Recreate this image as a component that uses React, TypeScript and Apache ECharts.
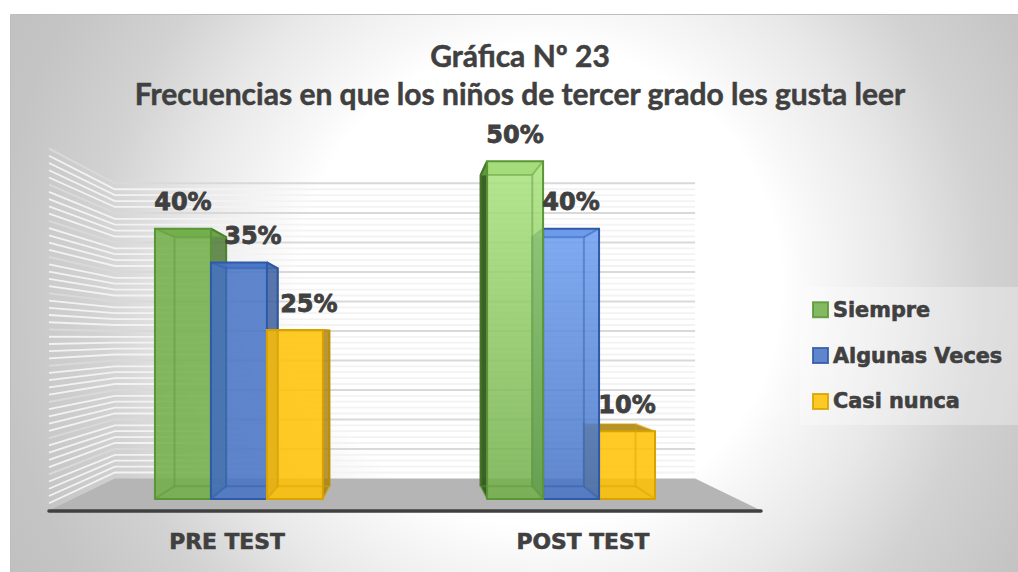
import React, { useEffect, useRef } from "react";
import * as echarts from "echarts";

const categories = ["PRE TEST", "POST TEST"];
const siempre = [40, 50];
const algunasVeces = [35, 40];
const casiNunca = [25, 10];
const seriesNames = ["Siempre", "Algunas Veces", "Casi nunca"];
const wallTicks = Array.from({ length: 51 }, (_, i) => i);

const FONT = "'DejaVu Sans', sans-serif";
const INK = "#404040";
const VANISH_X = 405;
const VANISH_Y = 337;
const WALL_S = 0.815;
const BAR_FRONT_S = 0.933;
const BAR_BACK_S = 0.86;
const BAR_W = 60;

const palette = [
  { base: "#70ad47", edge: "#5a9636", side: "#44732a", sideDark: "#335a1c", topLight: "#a9e27d" },
  { base: "#4472c4", edge: "#2e5aa8", side: "#2f5597", sideDark: "#254a8a", topLight: "#6b9df0" },
  { base: "#ffc000", edge: "#d8a200", side: "#a87f05", sideDark: "#a87f05", topLight: "#ffc000" },
];

const project = (x: number, y: number, s: number) => [
  VANISH_X + (x - VANISH_X) * s,
  VANISH_Y + (y - VANISH_Y) * s,
];

const poly = (points: number[][], style: any, z2: number) => ({
  type: "polygon",
  shape: { points },
  style,
  z2,
  silent: true,
});
const line = (points: number[][], style: any, z2: number) => ({
  type: "polyline",
  shape: { points },
  style: { fill: "none", ...style },
  z2,
  silent: true,
});

const wallsRender = (params: any, api: any) => {
  const v = api.value(0);
  const sys = params.coordSys;
  const y = api.coord([0, v])[1];
  const left = sys.x;
  const right = sys.x + sys.width;
  const major = v % 5 === 0;
  const children: any[] = [];
  if (params.dataIndex === 0) {
    const by = api.coord([0, 0])[1];
    children.push(
      poly(
        [[left, by], project(left, by, WALL_S), project(right, by, WALL_S), [right, by]],
        { fill: "#b5b5b5" },
        0,
      ),
    );
  } else {
    children.push(
      line([[left, y], project(left, y, WALL_S), project(right, y, WALL_S)], {
        stroke: major ? "#d9d9d9" : "#f3f3f3",
        lineWidth: major ? 2 : 1.8,
      }, major ? 2 : 1),
    );
  }
  return { type: "group", children };
};

const barRender = (seriesIndex: number) => (params: any, api: any) => {
  const cat = api.value(0);
  const val = api.value(1);
  const c = palette[seriesIndex];
  const cx = api.coord([cat, 0])[0] + (seriesIndex - 1) * BAR_W;
  const xL = cx - BAR_W / 2;
  const xR = cx + BAR_W / 2;
  const yT = api.coord([cat, val])[1];
  const yB = api.coord([cat, 0])[1];
  const f = (x: number, y: number) => project(x, y, BAR_FRONT_S);
  const b = (x: number, y: number) => project(x, y, BAR_BACK_S);
  const z = (cat === 0 ? seriesIndex : 2 - seriesIndex) * 10 + 5;
  const leftOfCentre = cx < VANISH_X;
  const sx = leftOfCentre ? xR : xL;
  const fill =
    cat === 1 && seriesIndex < 2
      ? new echarts.graphic.LinearGradient(0, 0, 0, 1, [
          { offset: 0, color: c.topLight },
          { offset: 1, color: c.base },
        ])
      : c.base;
  const topSeen = b(xL, yT)[1] < f(xL, yT)[1];
  const inner = { stroke: c.edge, lineWidth: 2, opacity: 0.45 };
  const outer = { stroke: c.edge, lineWidth: 2 };
  const sideColor = leftOfCentre ? c.side : c.sideDark;
  const children: any[] = [
    poly([f(sx, yT), b(sx, yT), b(sx, yB), f(sx, yB)], { fill: sideColor, opacity: leftOfCentre ? 0.8 : 0.95 }, z),
    poly([f(xL, yT), b(xL, yT), b(xR, yT), f(xR, yT)], { fill: topSeen ? c.side : c.base, opacity: topSeen ? 0.85 : 0.75 }, z),
    line([f(sx, yT), b(sx, yT), b(sx, yB)], { stroke: sideColor, lineWidth: 2 }, z + 1),
    poly([f(xL, yT), f(xR, yT), f(xR, yB), f(xL, yB)], { fill, opacity: 0.85 }, z + 2),
    line([b(xL, yT), b(xL, yB), b(xR, yB), b(xR, yT), b(xL, yT)], inner, z + 3),
    line([f(xL, yB), b(xL, yB)], inner, z + 3),
    line([f(xR, yB), b(xR, yB)], inner, z + 3),
    line([f(xL, yT), b(xL, yT)], inner, z + 3),
    line([f(xR, yT), b(xR, yT)], inner, z + 3),
    poly([f(xL, yT), f(xR, yT), f(xR, yB), f(xL, yB)], { fill: "none", ...outer }, z + 4),
  ];
  const centre = (f(xL, yT)[0] + f(xR, yT)[0]) / 2;
  const shift = cat === 0 && seriesIndex > 0 ? 14 : 0;
  children.push({
    type: "text",
    z2: 100,
    silent: true,
    style: {
      text: `${val}%`,
      x: centre + shift,
      y: f(xL, yT)[1] - 26.5,
      align: "center",
      verticalAlign: "middle",
      fill: INK,
      stroke: INK,
      lineWidth: 0.8,
      font: `bold 24px ${FONT}`,
    },
  });
  return { type: "group", children };
};

const seriesValues = [siempre, algunasVeces, casiNunca];

export default function App() {
  const ref = useRef<HTMLDivElement>(null);
  useEffect(() => {
    const chart = echarts.init(ref.current!, undefined, { renderer: "svg" });
    chart.setOption({
      animation: false,
      title: {
        text: "Gráfica Nº 23\nFrecuencias en que los niños de tercer grado les gusta leer",
        left: 515,
        top: 31,
        textAlign: "center",
        textStyle: {
          fontFamily: "Lato, sans-serif",
          fontWeight: "bold",
          fontSize: 30,
          lineHeight: 38,
          color: INK,
          textBorderColor: INK,
          textBorderWidth: 0.5,
        },
      },
      graphic: [
        {
          type: "rect",
          z: -10,
          silent: true,
          shape: { x: 10.5, y: 14.5, width: 1010, height: 560 },
          style: {
            stroke: "#bdbdbd",
            lineWidth: 1,
            fill: new echarts.graphic.RadialGradient(
              540,
              285,
              650,
              [
                { offset: 0, color: "#ffffff" },
                { offset: 0.37, color: "#ffffff" },
                { offset: 0.42, color: "#f8f8f8" },
                { offset: 0.55, color: "#e8e8e8" },
                { offset: 0.685, color: "#d2d2d2" },
                { offset: 0.84, color: "#c4c4c4" },
                { offset: 1, color: "#bebebe" },
              ],
              true,
            ),
          },
        },
        {
          type: "rect",
          z: -9,
          silent: true,
          shape: { x: 800, y: 287, width: 218, height: 138 },
          style: { fill: "rgba(255,255,255,0.3)" },
        },
      ],
      legend: {
        orient: "vertical",
        left: 812,
        top: 299,
        padding: 0,
        itemWidth: 15,
        itemHeight: 15,
        itemGap: 24.2,
        selectedMode: false,
        textStyle: {
          fontFamily: FONT,
          fontWeight: "bold",
          fontSize: 20.8,
          lineHeight: 20,
          color: INK,
          textBorderColor: INK,
          textBorderWidth: 0.6,
        },
        data: seriesNames.map((name, i) => ({
          name,
          icon: "rect",
          itemStyle: { color: palette[i].base, opacity: 0.85, borderColor: palette[i].edge, borderWidth: 2 },
        })),
      },
      grid: { left: 49, right: 257, top: 148.5, bottom: 61.5 },
      xAxis: {
        type: "category",
        data: categories,
        axisTick: { show: false },
        axisLine: { lineStyle: { color: INK, width: 3.5, cap: "round" } },
        axisLabel: {
          fontFamily: FONT,
          fontWeight: "bold",
          fontSize: 21.8,
          color: INK,
          margin: 20,
          textBorderColor: INK,
          textBorderWidth: 0.6,
        },
        z: 3,
      },
      yAxis: { type: "value", min: 0, max: 50, interval: 5, show: false },
      series: [
        {
          type: "custom",
          name: "walls",
          z: 1,
          silent: true,
          coordinateSystem: "cartesian2d",
          renderItem: wallsRender,
          encode: { y: 0 },
          data: wallTicks.map((v) => [v]),
        },
        ...seriesNames.map((name, i) => ({
          type: "custom",
          name,
          z: 2,
          silent: true,
          coordinateSystem: "cartesian2d",
          renderItem: barRender(i),
          encode: { x: 0, y: 1 },
          itemStyle: { color: palette[i].base },
          data: seriesValues[i].map((v, c) => [c, v]),
        })),
      ],
    });
    return () => chart.dispose();
  }, []);
  return <div ref={ref} style={{ position: "absolute", left: 0, top: 0, width: 1018, height: 572, overflow: "hidden" }} />;
}
